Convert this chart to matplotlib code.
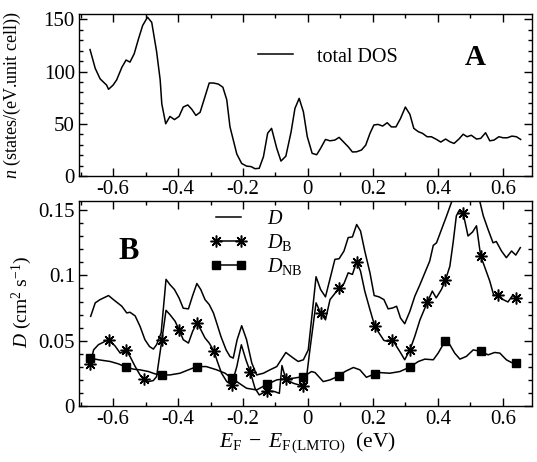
import matplotlib
matplotlib.use('Agg')
import matplotlib.pyplot as plt
from matplotlib.lines import Line2D
from matplotlib.ticker import MultipleLocator, FuncFormatter

# ---- data ----
# panel A: total density of states
dos_x = [-0.671, -0.655, -0.64, -0.62, -0.614, -0.6, -0.589, -0.573, -0.56, -0.548,
         -0.535, -0.522, -0.509, -0.494, -0.481, -0.466, -0.455, -0.45, -0.438, -0.425,
         -0.411, -0.397, -0.384, -0.37, -0.358, -0.345, -0.332, -0.317, -0.304, -0.291,
         -0.276, -0.262, -0.25, -0.24, -0.219, -0.204, -0.189, -0.175, -0.163, -0.15,
         -0.137, -0.124, -0.112, -0.096, -0.083, -0.068, -0.052, -0.04, -0.027, -0.014,
         -0.002, 0.013, 0.027, 0.039, 0.054, 0.068, 0.083, 0.096, 0.109, 0.124,
         0.137, 0.15, 0.165, 0.178, 0.191, 0.203, 0.216, 0.23, 0.244, 0.257,
         0.271, 0.285, 0.3, 0.314, 0.326, 0.34, 0.353, 0.367, 0.38, 0.396,
         0.409, 0.424, 0.437, 0.45, 0.465, 0.478, 0.49, 0.503, 0.519, 0.532,
         0.547, 0.56, 0.573, 0.588, 0.601, 0.614, 0.628, 0.642, 0.655]
dos_y = [121, 103, 93, 87, 83, 87, 92, 104, 111, 109,
         117, 131, 144, 152, 147, 119, 92, 69, 50, 57,
         54, 57, 66, 68, 64, 58, 61, 76, 89, 89,
         88, 85, 73, 47, 21, 12, 9.5, 9, 7, 7.4,
         18.5, 41, 45.6, 26.5, 14.3, 19, 42, 64.7, 74.3, 61.5,
         37.6, 21.7, 20.4, 26.5, 35, 33.7, 34.4, 37, 32.8, 28,
         23, 23.2, 24.9, 29.6, 40.8, 48.8, 49.4, 47.8, 51, 47,
         47, 55, 66, 59, 45.6, 42.4, 40.8, 37.6, 37.6, 35,
         32.5, 35.4, 32.8, 31.2, 35.4, 40, 37.6, 39, 35.4, 36,
         41.4, 33.7, 34.4, 37.6, 36.6, 36.6, 38.2, 37.6, 35]

# panel B: D
d_x = [-0.669, -0.655, -0.64, -0.614, -0.599, -0.573, -0.558, -0.548, -0.532, -0.517,
       -0.502, -0.488, -0.476, -0.466, -0.452, -0.437, -0.425, -0.411, -0.397, -0.384,
       -0.368, -0.355, -0.342, -0.33, -0.317, -0.304, -0.291, -0.281, -0.268, -0.252,
       -0.24, -0.23, -0.218, -0.204, -0.189, -0.173, -0.158, -0.137, -0.117, -0.096,
       -0.081, -0.068, -0.045, -0.03, -0.014, 0.001, 0.011, 0.025, 0.039, 0.054,
       0.068, 0.083, 0.096, 0.111, 0.124, 0.137, 0.15, 0.162, 0.175, 0.191,
       0.204, 0.219, 0.234, 0.247, 0.261, 0.273, 0.285, 0.298, 0.314, 0.329,
       0.345, 0.36, 0.375, 0.386, 0.396, 0.411, 0.427, 0.442, 0.46, 0.49,
       0.515, 0.529, 0.54, 0.555, 0.57, 0.58, 0.596, 0.611, 0.627, 0.64, 0.654]
d_y = [0.0687, 0.079, 0.0815, 0.0846, 0.0815, 0.0764, 0.0713, 0.0718, 0.069, 0.061,
       0.0508, 0.0456, 0.0436, 0.047, 0.056, 0.097, 0.093, 0.0892, 0.0828, 0.0749,
       0.0744, 0.0846, 0.0938, 0.0892, 0.0815, 0.0777, 0.0713, 0.0636, 0.0533, 0.043,
       0.0379, 0.0367, 0.0508, 0.0615, 0.0508, 0.033, 0.0238, 0.0251, 0.0277, 0.0302,
       0.036, 0.041, 0.0367, 0.0341, 0.0354, 0.043, 0.066, 0.099, 0.0892, 0.0836,
       0.0974, 0.1123, 0.1128, 0.1187, 0.129, 0.1295, 0.139, 0.134, 0.1187, 0.102,
       0.0846, 0.0836, 0.0815, 0.0744, 0.0751, 0.0764, 0.0674, 0.063, 0.0726, 0.084,
       0.093, 0.102, 0.111, 0.123, 0.125, 0.135, 0.1456, 0.156, 0.168, 0.18,
       0.168, 0.157, 0.1456, 0.135, 0.125, 0.126, 0.1187, 0.1136, 0.1187, 0.1156, 0.1213]

# panel B: D_B
db_x = [-0.67, -0.66, -0.645, -0.614, -0.594, -0.578, -0.56, -0.548, -0.532, -0.517,
        -0.505, -0.491, -0.476, -0.466, -0.45, -0.437, -0.425, -0.409, -0.396, -0.384,
        -0.368, -0.355, -0.342, -0.33, -0.317, -0.304, -0.289, -0.279, -0.266, -0.25,
        -0.235, -0.219, -0.205, -0.191, -0.178, -0.163, -0.15, -0.125, -0.102, -0.088,
        -0.08, -0.068, -0.045, -0.014, -0.004, 0.006, 0.025, 0.039, 0.054, 0.068,
        0.095, 0.111, 0.124, 0.137, 0.15, 0.162, 0.175, 0.191, 0.206, 0.219,
        0.234, 0.247, 0.26, 0.273, 0.286, 0.298, 0.314, 0.329, 0.345, 0.368,
        0.383, 0.395, 0.411, 0.423, 0.437, 0.447, 0.457, 0.465, 0.478, 0.493,
        0.507, 0.519, 0.532, 0.545, 0.56, 0.572, 0.586, 0.601, 0.616, 0.63, 0.642]
db_y = [0.0323, 0.043, 0.047, 0.0508, 0.046, 0.0405, 0.0426, 0.038, 0.0302, 0.0238,
        0.0205, 0.0187, 0.0195, 0.0226, 0.0502, 0.0733, 0.07, 0.0649, 0.0579, 0.0508,
        0.0482, 0.0572, 0.0636, 0.0585, 0.0521, 0.0482, 0.0418, 0.0341, 0.0251, 0.0187,
        0.0162, 0.0302, 0.0469, 0.0354, 0.0264, 0.0136, 0.0085, 0.0117, 0.011, 0.0097,
        0.031, 0.0205, 0.0174, 0.0152, 0.0226, 0.043, 0.079, 0.0713, 0.066, 0.0815,
        0.09, 0.0938, 0.102, 0.1008, 0.1105, 0.1033, 0.088, 0.0738, 0.061, 0.0559,
        0.0502, 0.0495, 0.0508, 0.0456, 0.0405, 0.0354, 0.043, 0.0533, 0.066, 0.0797,
        0.088, 0.0828, 0.0892, 0.0962, 0.107, 0.125, 0.1456, 0.1495, 0.1477, 0.1302,
        0.1333, 0.138, 0.1148, 0.106, 0.0956, 0.0849, 0.0849, 0.0815, 0.0797, 0.0846, 0.0828]
db_marks = [-0.67, -0.614, -0.56, -0.505, -0.45, -0.396, -0.342, -0.289, -0.235, -0.178,
            -0.125, -0.068, -0.014, 0.039, 0.095, 0.15, 0.206, 0.26, 0.314, 0.368,
            0.423, 0.478, 0.532, 0.586, 0.642]

# panel B: D_NB
dnb_x = [-0.67, -0.645, -0.609, -0.584, -0.56, -0.537, -0.517, -0.491, -0.471, -0.45,
         -0.425, -0.394, -0.368, -0.342, -0.313, -0.281, -0.255, -0.235, -0.189, -0.158,
         -0.125, -0.096, -0.068, -0.045, -0.014, 0.011, 0.022, 0.047, 0.068, 0.095,
         0.114, 0.14, 0.16, 0.18, 0.206, 0.222, 0.252, 0.283, 0.314, 0.34,
         0.36, 0.386, 0.401, 0.423, 0.437, 0.452, 0.468, 0.488, 0.509, 0.532,
         0.555, 0.575, 0.591, 0.611, 0.627, 0.642]
dnb_y = [0.0367, 0.0354, 0.0341, 0.0323, 0.0298, 0.0282, 0.0277, 0.0264, 0.0246, 0.0238,
         0.0238, 0.0251, 0.0277, 0.0302, 0.0302, 0.0277, 0.0251, 0.0213, 0.0136, 0.0123,
         0.0167, 0.02, 0.021, 0.0213, 0.0225, 0.0264, 0.0256, 0.0187, 0.02, 0.023,
         0.0264, 0.0295, 0.0277, 0.022, 0.0246, 0.0256, 0.0251, 0.0264, 0.0298, 0.0341,
         0.0359, 0.0354, 0.0405, 0.05, 0.0469, 0.0405, 0.0359, 0.038, 0.043, 0.0418,
         0.0392, 0.041, 0.0405, 0.0354, 0.0333, 0.0328]
dnb_marks = [-0.67, -0.56, -0.45, -0.342, -0.235, -0.125, -0.014, 0.095, 0.206, 0.314,
             0.423, 0.532, 0.642]

# ---- style ----
plt.rcParams['font.family'] = 'Liberation Serif'
plt.rcParams['mathtext.fontset'] = 'custom'
plt.rcParams['mathtext.rm'] = 'Liberation Serif'
plt.rcParams['mathtext.it'] = 'Liberation Serif:italic'
plt.rcParams['mathtext.bf'] = 'Liberation Serif:bold'
plt.rcParams['axes.unicode_minus'] = False
plt.rcParams['axes.linewidth'] = 1.0

LW = 1.1
STAR = (8, 2, 0)

fig = plt.figure(figsize=(5.37, 4.62), dpi=100)
ax1 = fig.add_axes([0.1471, 0.619, 0.8436, 0.3506])
ax2 = fig.add_axes([0.1471, 0.1212, 0.8436, 0.4437])

fmt = FuncFormatter(lambda v, p: '%g' % round(v, 4))


def style_axis(ax, ymajor, yminor):
    ax.set_xlim(-0.705, 0.69)
    ax.xaxis.set_major_locator(MultipleLocator(0.2))
    ax.xaxis.set_minor_locator(MultipleLocator(0.1))
    ax.yaxis.set_major_locator(MultipleLocator(ymajor))
    ax.yaxis.set_minor_locator(MultipleLocator(yminor))
    ax.xaxis.set_major_formatter(fmt)
    ax.yaxis.set_major_formatter(fmt)
    ax.tick_params(which='both', direction='in', top=True, right=True, labelsize=15)
    ax.tick_params(which='major', length=6, width=1.0, pad=3)
    ax.tick_params(which='minor', length=3, width=1.0)


# panel A
ax1.plot(dos_x, dos_y, color='black', lw=LW, label='total DOS')
ax1.set_ylim(0, 155)
style_axis(ax1, 50, 10)
ax1.set_ylabel(r'$n$ (states/(eV.unit cell))', fontsize=13)
ax1.yaxis.set_label_coords(-0.124, 0.5)
ax1.legend(loc='center left', bbox_to_anchor=(0.395, 0.735), frameon=False,
           fontsize=14.5, handlelength=1.75, handletextpad=1.2, borderpad=0,
           borderaxespad=0)
ax1.text(0.875, 0.73, 'A', transform=ax1.transAxes, fontsize=21,
         fontweight='bold', ha='center', va='center')

# panel B
ax2.plot(d_x, d_y, color='black', lw=LW)
ax2.plot(db_x, db_y, color='black', lw=LW)
ax2.plot(db_x, db_y, linestyle='none', marker=STAR, color='black', ms=8.5, mew=1.1,
         markevery=[db_x.index(v) for v in db_marks])
ax2.plot(dnb_x, dnb_y, color='black', lw=LW)
ax2.plot(dnb_x, dnb_y, linestyle='none', marker='s', color='black', ms=5.5,
         markevery=[dnb_x.index(v) for v in dnb_marks])
ax2.set_ylim(0, 0.157)
style_axis(ax2, 0.05, 0.01)
ax2.set_ylabel(r'$D$ (cm$^2$ s$^{-1}$)', fontsize=14)
ax2.yaxis.set_label_coords(-0.1, 0.51)
ax2.set_xlabel(r'$E_{\mathrm{F}}\; -\; E_{\mathrm{F\,(LMTO)}}$  (eV)', fontsize=15.5)
ax2.xaxis.set_label_coords(0.505, -0.12)

handles = [
    Line2D([], [], color='black', lw=LW),
    Line2D([], [], color='black', lw=LW, marker=STAR, ms=8.5, mew=1.1),
    Line2D([], [], color='black', lw=LW, marker='s', ms=5.5),
]
ax2.legend(handles, [r'$D$', r'$D_{\mathrm{B}}$', r'$D_{\mathrm{NB}}$'],
           loc='upper left', bbox_to_anchor=(0.29, 0.955), frameon=False,
           fontsize=14.5, numpoints=2, handlelength=1.8, handletextpad=1.0,
           labelspacing=0.15, borderpad=0, borderaxespad=0)
ax2.text(0.11, 0.755, 'B', transform=ax2.transAxes, fontsize=22,
         fontweight='bold', ha='center', va='center')

fig.savefig('out.png', dpi=100)
